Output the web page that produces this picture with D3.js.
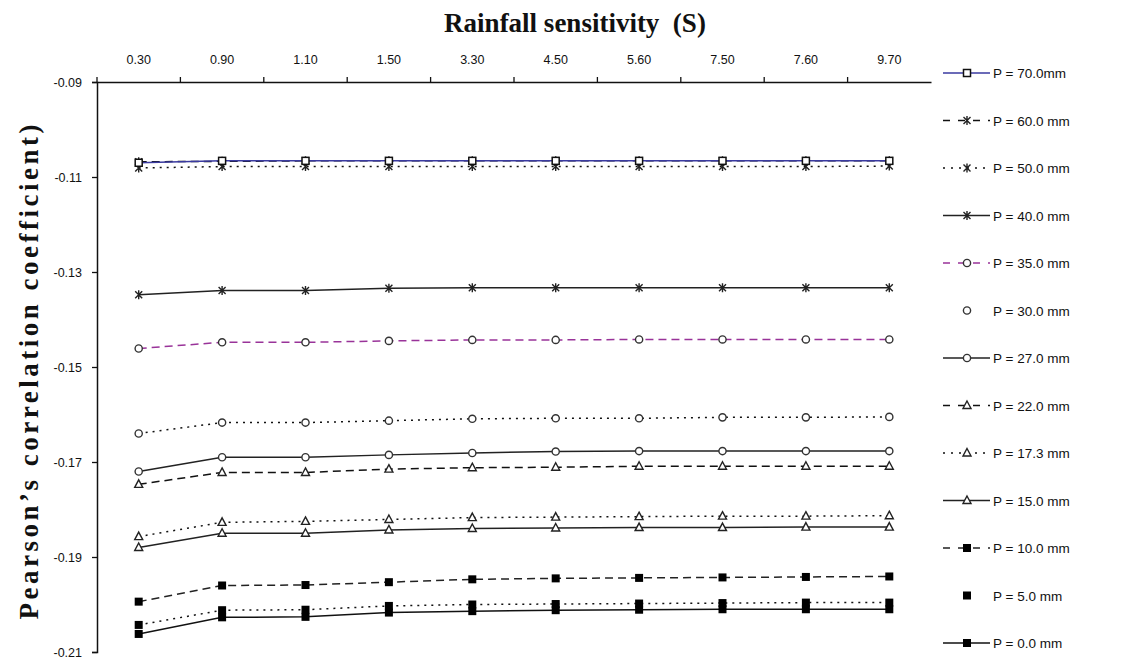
<!DOCTYPE html>
<html>
<head>
<meta charset="utf-8">
<script src="https://cdn.jsdelivr.net/npm/d3@7"></script>
<style>
  body { margin: 0; background: #fff; }
  #chart { width: 1122px; height: 662px; }
</style>
</head>
<body>
<div id="chart"></div>
<script>
// rainfall sensitivity categories (top axis)
const categories = ["0.30", "0.90", "1.10", "1.50", "3.30", "4.50", "5.60", "7.50", "7.60", "9.70"];
const yTicks = [-0.09, -0.11, -0.13, -0.15, -0.17, -0.19, -0.21];

// Pearson's correlation coefficient for each rainfall threshold P
const p70 = [-0.1070, -0.1066, -0.1066, -0.1066, -0.1066, -0.1066, -0.1066, -0.1066, -0.1066, -0.1066];
const p60 = [-0.1068, -0.1067, -0.1066, -0.1066, -0.1066, -0.1066, -0.1066, -0.1066, -0.1066, -0.1066];
const p50 = [-0.1081, -0.1078, -0.1078, -0.1078, -0.1078, -0.1078, -0.1078, -0.1078, -0.1078, -0.1077];
const p40 = [-0.1348, -0.1339, -0.1339, -0.1334, -0.1333, -0.1333, -0.1333, -0.1333, -0.1333, -0.1333];
const p35 = [-0.1461, -0.1448, -0.1448, -0.1445, -0.1443, -0.1443, -0.1442, -0.1442, -0.1442, -0.1442];
const p30 = [-0.1640, -0.1617, -0.1617, -0.1613, -0.1609, -0.1608, -0.1608, -0.1606, -0.1606, -0.1605];
const p27 = [-0.1720, -0.1690, -0.1690, -0.1685, -0.1681, -0.1678, -0.1677, -0.1677, -0.1677, -0.1677];
const p22 = [-0.1747, -0.1722, -0.1722, -0.1715, -0.1712, -0.1711, -0.1709, -0.1709, -0.1709, -0.1709];
const p17 = [-0.1857, -0.1827, -0.1825, -0.1821, -0.1817, -0.1816, -0.1815, -0.1814, -0.1814, -0.1813];
const p15 = [-0.1880, -0.1850, -0.1850, -0.1843, -0.1840, -0.1839, -0.1838, -0.1838, -0.1837, -0.1837];
const p10 = [-0.1994, -0.1960, -0.1959, -0.1953, -0.1947, -0.1945, -0.1944, -0.1943, -0.1942, -0.1941];
const p5  = [-0.2043, -0.2012, -0.2011, -0.2003, -0.2000, -0.1999, -0.1998, -0.1997, -0.1996, -0.1996];
const p0  = [-0.2062, -0.2027, -0.2026, -0.2017, -0.2014, -0.2012, -0.2011, -0.2010, -0.2010, -0.2010];

// series list: label, values, line style, marker
const series = [
  { label: "P = 70.0mm",  values: p70, color: "#3a3aa0", dash: null,  marker: "square" },
  { label: "P = 60.0 mm", values: p60, color: "#111",    dash: "8,5", marker: "star" },
  { label: "P = 50.0 mm", values: p50, color: "#111",    dash: "2,5", marker: "star" },
  { label: "P = 40.0 mm", values: p40, color: "#222",    dash: null,  marker: "star" },
  { label: "P = 35.0 mm", values: p35, color: "#993399", dash: "8,5", marker: "circle" },
  { label: "P = 30.0 mm", values: p30, color: "#111",    dash: "2,5", marker: "circle", noLegendLine: true },
  { label: "P = 27.0 mm", values: p27, color: "#222",    dash: null,  marker: "circle" },
  { label: "P = 22.0 mm", values: p22, color: "#111",    dash: "8,5", marker: "triangle" },
  { label: "P = 17.3 mm", values: p17, color: "#111",    dash: "2,5", marker: "triangle" },
  { label: "P = 15.0 mm", values: p15, color: "#222",    dash: null,  marker: "triangle" },
  { label: "P = 10.0 mm", values: p10, color: "#222",    dash: "8,5", marker: "filled" },
  { label: "P = 5.0 mm",  values: p5,  color: "#111",    dash: "2,5", marker: "filled", noLegendLine: true },
  { label: "P = 0.0 mm",  values: p0,  color: "#111",    dash: null,  marker: "filled" }
];

const plotLeft = 97, plotRight = 931, plotTop = 82, plotBottom = 652;

const svg = d3.select("#chart").append("svg")
  .attr("width", 1122)
  .attr("height", 662);

const x = d3.scaleBand().domain(categories).range([plotLeft, plotRight]);
const y = d3.scaleLinear().domain([-0.21, -0.09]).range([plotBottom, plotTop]);

// top axis: labels centred on bands, ticks at band boundaries
const xAxis = svg.append("g")
  .attr("transform", "translate(0," + plotTop + ")")
  .call(d3.axisTop(x).tickSize(0).tickPadding(18));
xAxis.select(".domain").attr("stroke", "#111").attr("stroke-width", 1.5);
xAxis.selectAll("text")
  .attr("font-family", "Liberation Sans, Arial, sans-serif")
  .attr("font-size", "12.5px")
  .attr("fill", "#111");

svg.append("g").selectAll("line")
  .data(categories)
  .enter().append("line")
  .attr("x1", d => x(d))
  .attr("x2", d => x(d))
  .attr("y1", plotTop)
  .attr("y2", plotTop - 5)
  .attr("stroke", "#111")
  .attr("stroke-width", 1.3);

// left axis
const yAxis = svg.append("g")
  .attr("transform", "translate(" + plotLeft + ",0)")
  .call(d3.axisLeft(y).tickValues(yTicks).tickSize(5).tickPadding(10)
    .tickFormat(d => d.toFixed(2)));
yAxis.select(".domain").attr("stroke", "#111").attr("stroke-width", 1.5);
yAxis.selectAll(".tick line").attr("stroke", "#111").attr("stroke-width", 1.3);
yAxis.selectAll("text")
  .attr("font-family", "Liberation Sans, Arial, sans-serif")
  .attr("font-size", "12.5px")
  .attr("fill", "#111");

// titles
svg.append("text")
  .attr("x", 575)
  .attr("y", 32)
  .attr("text-anchor", "middle")
  .attr("font-family", "Liberation Serif, Times New Roman, serif")
  .attr("font-weight", "bold")
  .attr("font-size", "27px")
  .attr("fill", "#111")
  .attr("xml:space", "preserve")
  .text("Rainfall sensitivity  (S)");

svg.append("text")
  .attr("transform", "translate(38,372) rotate(-90)")
  .attr("text-anchor", "middle")
  .attr("font-family", "Liberation Serif, Times New Roman, serif")
  .attr("font-weight", "bold")
  .attr("font-size", "27px")
  .attr("fill", "#111")
  .attr("textLength", 495)
  .attr("lengthAdjust", "spacing")
  .text("Pearson\u2019s  correlation  coefficient)");

// marker drawing
function drawMarker(g, type, cx, cy) {
  if (type === "square") {
    g.append("rect").attr("x", cx - 3.5).attr("y", cy - 3.5).attr("width", 7).attr("height", 7)
      .attr("fill", "#fff").attr("stroke", "#111").attr("stroke-width", 1.5);
  } else if (type === "filled") {
    g.append("rect").attr("x", cx - 4).attr("y", cy - 4).attr("width", 8).attr("height", 8)
      .attr("fill", "#000");
  } else if (type === "circle") {
    g.append("circle").attr("cx", cx).attr("cy", cy).attr("r", 3.6)
      .attr("fill", "#fff").attr("stroke", "#333").attr("stroke-width", 1.4);
  } else if (type === "triangle") {
    g.append("path")
      .attr("d", "M" + cx + "," + (cy - 4.5) + "L" + (cx + 4) + "," + (cy + 3) + "L" + (cx - 4) + "," + (cy + 3) + "Z")
      .attr("fill", "#fff").attr("stroke", "#222").attr("stroke-width", 1.4);
  } else if (type === "star") {
    g.append("path")
      .attr("d", "M" + (cx - 3.5) + "," + (cy - 3.5) + "L" + (cx + 3.5) + "," + (cy + 3.5) +
        "M" + (cx + 3.5) + "," + (cy - 3.5) + "L" + (cx - 3.5) + "," + (cy + 3.5) +
        "M" + cx + "," + (cy - 4.5) + "L" + cx + "," + (cy + 4.5))
      .attr("fill", "none").attr("stroke", "#222").attr("stroke-width", 1.4);
  }
}

const line = d3.line()
  .x((d, i) => x(categories[i]) + x.bandwidth() / 2)
  .y(d => y(d));

// draw series from bottom of list to top so upper series sit above
const plot = svg.append("g");
series.slice().reverse().forEach(function (s) {
  const g = plot.append("g");
  g.append("path")
    .datum(s.values)
    .attr("d", line)
    .attr("fill", "none")
    .attr("stroke", s.color)
    .attr("stroke-width", 1.5)
    .attr("stroke-dasharray", s.dash);
  s.values.forEach(function (v, i) {
    drawMarker(g, s.marker, x(categories[i]) + x.bandwidth() / 2, y(v));
  });
});

// legend
const legend = svg.append("g");
series.forEach(function (s, i) {
  const ly = 73 + i * 47.5;
  const g = legend.append("g");
  if (!s.noLegendLine) {
    g.append("line")
      .attr("x1", 943).attr("x2", 990)
      .attr("y1", ly).attr("y2", ly)
      .attr("stroke", s.color)
      .attr("stroke-width", 1.5)
      .attr("stroke-dasharray", s.dash === "8,5" ? "7,8" : s.dash === "2,5" ? "2,6" : null);
  }
  drawMarker(g, s.marker, 967, ly);
  g.append("text")
    .attr("x", 993)
    .attr("y", ly + 5)
    .attr("font-family", "Liberation Sans, Arial, sans-serif")
    .attr("font-size", "13.5px")
    .attr("fill", "#111")
    .text(s.label);
});
</script>
</body>
</html>
